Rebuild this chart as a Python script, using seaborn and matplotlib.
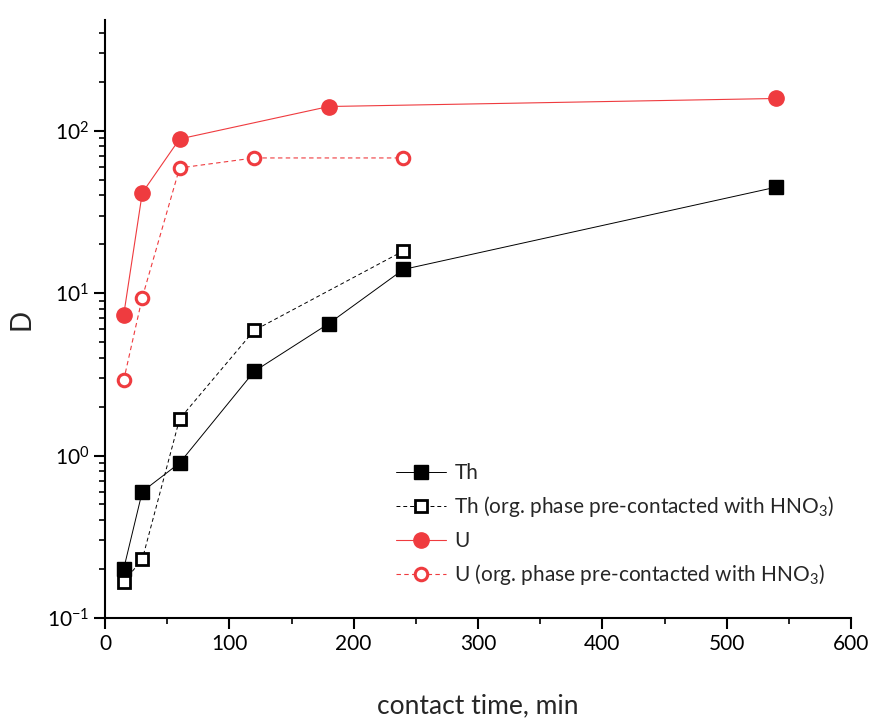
import matplotlib
matplotlib.use("Agg")
import matplotlib.pyplot as plt
import seaborn as sns
import numpy as np
import pandas as pd
from matplotlib.ticker import LogLocator, MultipleLocator
from matplotlib.lines import Line2D

# ---- data ----
th_time = [15, 30, 60, 120, 180, 240, 540]
th_D = [0.20, 0.60, 0.90, 3.3, 6.5, 14.0, 45.0]

th_pre_time = [15, 30, 60, 120, 240]
th_pre_D = [0.167, 0.23, 1.68, 5.9, 18.2]

u_time = [15, 30, 60, 180, 540]
u_D = [7.3, 41.5, 89.0, 141.0, 158.0]

u_pre_time = [15, 30, 60, 120, 240]
u_pre_D = [2.9, 9.4, 59.0, 68.0, 68.0]

labels = ["Th", "Th (org. phase pre-contacted with HNO$_3$)",
          "U", "U (org. phase pre-contacted with HNO$_3$)"]

RED = "#EF3B3F"

sns.set_style("ticks")
plt.rcParams['font.family'] = ['Lato', 'DejaVu Sans']
plt.rcParams['mathtext.fontset'] = 'custom'
plt.rcParams['mathtext.rm'] = 'Lato'
plt.rcParams['mathtext.it'] = 'Lato'

fig = plt.figure(figsize=(8.72, 7.18), dpi=100)
ax = fig.add_axes([0.1204, 0.1393, 0.8556, 0.8327])

styles = [
    dict(color="black", linewidth=0.7, linestyle="-", marker="s", markersize=9.5,
         markerfacecolor="black", markeredgecolor="black", markeredgewidth=1.0),
    dict(color="black", linewidth=0.7, linestyle=(0, (4, 3)), marker="s", markersize=8,
         markerfacecolor="white", markeredgecolor="black", markeredgewidth=2.0),
    dict(color=RED, linewidth=0.8, linestyle="-", marker="o", markersize=11,
         markerfacecolor=RED, markeredgecolor=RED, markeredgewidth=1.0),
    dict(color=RED, linewidth=0.8, linestyle=(0, (4, 3)), marker="o", markersize=9,
         markerfacecolor="white", markeredgecolor=RED, markeredgewidth=2.2),
]
series = [(th_time, th_D), (th_pre_time, th_pre_D), (u_time, u_D), (u_pre_time, u_pre_D)]

for (xs, ys), st in zip(series, styles):
    sns.lineplot(x=xs, y=ys, ax=ax, legend=False, **st)

ax.set_yscale("log")
ax.set_xlim(0, 600)
ax.set_ylim(0.1, 480)
ax.xaxis.set_major_locator(MultipleLocator(100))
ax.xaxis.set_minor_locator(MultipleLocator(50))
ax.yaxis.set_major_locator(LogLocator(base=10, numticks=10))
ax.yaxis.set_minor_locator(LogLocator(base=10, subs=np.arange(2, 10), numticks=20))

for s in ["top", "right"]:
    ax.spines[s].set_visible(False)
for s in ["left", "bottom"]:
    ax.spines[s].set_linewidth(1.5)
    ax.spines[s].set_color("black")

ax.tick_params(axis="both", which="major", direction="out", length=8,
               width=1.5, labelsize=15, color="black", labelcolor="black")
ax.tick_params(axis="both", which="minor", direction="out", length=4.5,
               width=1.2, color="black")

ax.set_xlabel("contact time, min", fontsize=19, labelpad=28)
ax.set_ylabel("D", fontsize=20, labelpad=9)

handles = [Line2D([], [], **st) for st in styles]
leg = ax.legend(handles, labels, loc="lower left", bbox_to_anchor=(0.365, 0.02),
                frameon=False, fontsize=15, handlelength=2.4, labelspacing=0.55,
                handletextpad=0.4, numpoints=1)

fig.savefig("out.png", dpi=100)
